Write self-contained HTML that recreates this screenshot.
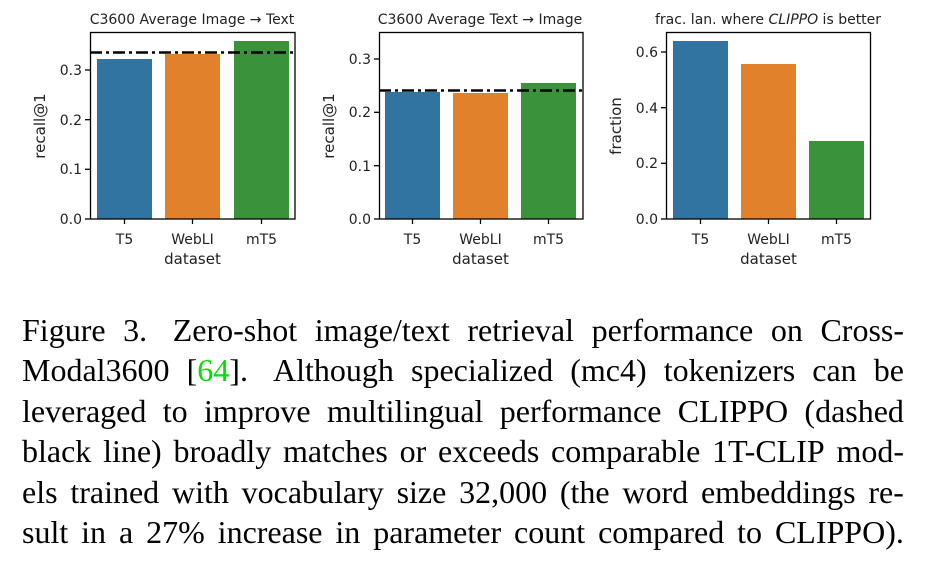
<!DOCTYPE html>
<html><head><meta charset="utf-8"><style>
body{margin:0;background:#fff;width:934px;height:569px;overflow:hidden;position:relative}
svg{position:absolute;left:0;top:0}
.cap{position:absolute;left:22px;top:310px;width:882px;font-family:"Liberation Serif",serif;font-size:32px;line-height:40.4px;color:#000}
.cap div{white-space:nowrap;display:flex;justify-content:space-between}
</style></head><body>
<svg width="934" height="300" font-family="DejaVu Sans, sans-serif" font-size="14" fill="#222">
<!-- panel 1 -->
<rect x="97" y="59" width="55" height="160" fill="#3274a1"/>
<rect x="165" y="54" width="55" height="165" fill="#e1812c"/>
<rect x="234" y="41" width="55" height="178" fill="#3a923a"/>
<line x1="90" y1="52.5" x2="295" y2="52.5" stroke="#000" stroke-width="2.5" stroke-dasharray="12,4,3,4"/>
<rect x="90.5" y="32.5" width="204.5" height="186.5" fill="none" stroke="#000" stroke-width="1.3"/>
<g stroke="#000" stroke-width="1.3"><line x1="85" x2="90" y1="219" y2="219"/><line x1="85" x2="90" y1="169.3" y2="169.3"/><line x1="85" x2="90" y1="119.7" y2="119.7"/><line x1="85" x2="90" y1="70" y2="70"/>
<line x1="124.5" x2="124.5" y1="219" y2="224"/><line x1="192.5" x2="192.5" y1="219" y2="224"/><line x1="261.5" x2="261.5" y1="219" y2="224"/></g>
<g text-anchor="end"><text x="82" y="224">0.0</text><text x="82" y="174">0.1</text><text x="82" y="125">0.2</text><text x="82" y="75">0.3</text></g>
<g text-anchor="middle"><text x="124.5" y="244">T5</text><text x="192.5" y="244">WebLI</text><text x="261.5" y="244">mT5</text><text x="192.5" y="264" font-size="15">dataset</text>
<text x="192" y="24" font-size="14">C3600 Average Image → Text</text></g>
<text transform="translate(45,126) rotate(-90)" text-anchor="middle" font-size="15">recall@1</text>
<!-- panel 2 -->
<rect x="385" y="92" width="55" height="127" fill="#3274a1"/>
<rect x="453" y="93" width="55" height="126" fill="#e1812c"/>
<rect x="521" y="83" width="55" height="136" fill="#3a923a"/>
<line x1="379" y1="90.5" x2="583" y2="90.5" stroke="#000" stroke-width="2.5" stroke-dasharray="12,4,3,4"/>
<rect x="379.5" y="32.5" width="203.5" height="186.5" fill="none" stroke="#000" stroke-width="1.3"/>
<g stroke="#000" stroke-width="1.3"><line x1="374" x2="379" y1="219" y2="219"/><line x1="374" x2="379" y1="165.7" y2="165.7"/><line x1="374" x2="379" y1="112.3" y2="112.3"/><line x1="374" x2="379" y1="59" y2="59"/>
<line x1="412.5" x2="412.5" y1="219" y2="224"/><line x1="480.5" x2="480.5" y1="219" y2="224"/><line x1="548.5" x2="548.5" y1="219" y2="224"/></g>
<g text-anchor="end"><text x="371" y="224">0.0</text><text x="371" y="171">0.1</text><text x="371" y="117">0.2</text><text x="371" y="64">0.3</text></g>
<g text-anchor="middle"><text x="412.5" y="244">T5</text><text x="480.5" y="244">WebLI</text><text x="548.5" y="244">mT5</text><text x="480.5" y="264" font-size="15">dataset</text>
<text x="480" y="24" font-size="14">C3600 Average Text → Image</text></g>
<text transform="translate(334,126) rotate(-90)" text-anchor="middle" font-size="15">recall@1</text>
<!-- panel 3 -->
<rect x="673" y="41" width="55" height="178" fill="#3274a1"/>
<rect x="741" y="64" width="55" height="155" fill="#e1812c"/>
<rect x="809" y="141" width="55" height="78" fill="#3a923a"/>
<rect x="666.5" y="32.5" width="204" height="186.5" fill="none" stroke="#000" stroke-width="1.3"/>
<g stroke="#000" stroke-width="1.3"><line x1="661" x2="666" y1="219" y2="219"/><line x1="661" x2="666" y1="163.3" y2="163.3"/><line x1="661" x2="666" y1="107.7" y2="107.7"/><line x1="661" x2="666" y1="52" y2="52"/>
<line x1="700.5" x2="700.5" y1="219" y2="224"/><line x1="768.5" x2="768.5" y1="219" y2="224"/><line x1="836.5" x2="836.5" y1="219" y2="224"/></g>
<g text-anchor="end"><text x="658" y="224">0.0</text><text x="658" y="168">0.2</text><text x="658" y="113">0.4</text><text x="658" y="57">0.6</text></g>
<g text-anchor="middle"><text x="700.5" y="244">T5</text><text x="768.5" y="244">WebLI</text><text x="836.5" y="244">mT5</text><text x="768.5" y="264" font-size="15">dataset</text>
<text x="768" y="24" font-size="14">frac. lan. where <tspan font-style="italic">CLIPPO</tspan> is better</text></g>
<text transform="translate(621,126) rotate(-90)" text-anchor="middle" font-size="15">fraction</text>
</svg>
<div class="cap">
<div><span>Figure</span><span>3.</span><span>&nbsp;Zero-shot</span><span>image/text</span><span>retrieval</span><span>performance</span><span>on</span><span>Cross-</span></div>
<div><span>Modal3600</span><span>[<span style="color:#00e000">64</span>].</span><span>&nbsp;Although</span><span>specialized</span><span>(mc4)</span><span>tokenizers</span><span>can</span><span>be</span></div>
<div><span>leveraged</span><span>to</span><span>improve</span><span>multilingual</span><span>performance</span><span>CLIPPO</span><span>(dashed</span></div>
<div><span>black</span><span>line)</span><span>broadly</span><span>matches</span><span>or</span><span>exceeds</span><span>comparable</span><span>1T-CLIP</span><span>mod-</span></div>
<div><span>els</span><span>trained</span><span>with</span><span>vocabulary</span><span>size</span><span>32,000</span><span>(the</span><span>word</span><span>embeddings</span><span>re-</span></div>
<div><span>sult</span><span>in</span><span>a</span><span>27%</span><span>increase</span><span>in</span><span>parameter</span><span>count</span><span>compared</span><span>to</span><span>CLIPPO).</span></div>
</div>
</body></html>
